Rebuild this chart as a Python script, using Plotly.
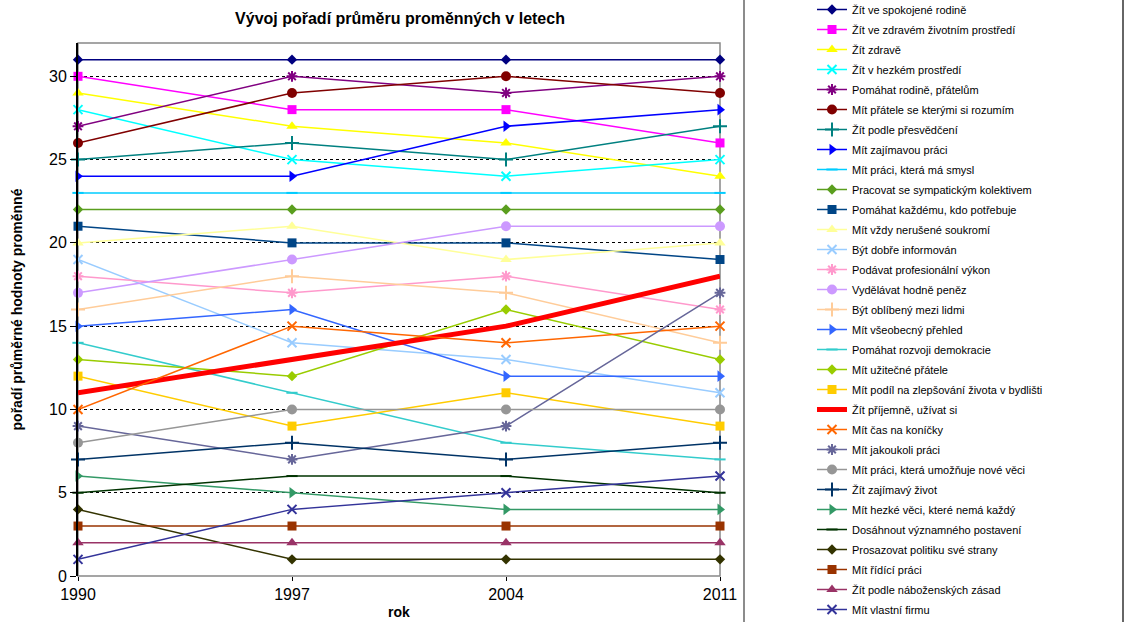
import plotly.graph_objects as go

years = [1990, 1997, 2004, 2011]

names = [
    "Žít ve spokojené rodině",
    "Žít ve zdravém životním prostředí",
    "Žít zdravě",
    "Žít v hezkém prostředí",
    "Pomáhat rodině, přátelům",
    "Mít přátele se kterými si rozumím",
    "Žít podle přesvědčení",
    "Mít zajímavou práci",
    "Mít práci, která má smysl",
    "Pracovat se sympatickým kolektivem",
    "Pomáhat každému, kdo potřebuje",
    "Mít vždy nerušené soukromí",
    "Být dobře informován",
    "Podávat profesionální výkon",
    "Vydělávat hodně peněz",
    "Být oblíbený mezi lidmi",
    "Mít všeobecný přehled",
    "Pomáhat rozvoji demokracie",
    "Mít užitečné přátele",
    "Mít podíl na zlepšování života v bydlišti",
    "Žít příjemně, užívat si",
    "Mít čas na koníčky",
    "Mít jakoukoli práci",
    "Mít práci, která umožňuje nové věci",
    "Žít zajímavý život",
    "Mít hezké věci, které nemá každý",
    "Dosáhnout významného postavení",
    "Prosazovat politiku své strany",
    "Mít řídící práci",
    "Žít podle náboženských zásad",
    "Mít vlastní firmu",
]

values = [
    [31, 31, 31, 31],
    [30, 28, 28, 26],
    [29, 27, 26, 24],
    [28, 25, 24, 25],
    [27, 30, 29, 30],
    [26, 29, 30, 29],
    [25, 26, 25, 27],
    [24, 24, 27, 28],
    [23, 23, 23, 23],
    [22, 22, 22, 22],
    [21, 20, 20, 19],
    [20, 21, 19, 20],
    [19, 14, 13, 11],
    [18, 17, 18, 16],
    [17, 19, 21, 21],
    [16, 18, 17, 14],
    [15, 16, 12, 12],
    [14, 11, 8, 7],
    [13, 12, 16, 13],
    [12, 9, 11, 9],
    [11, 13, 15, 18],
    [10, 15, 14, 15],
    [9, 7, 9, 17],
    [8, 10, 10, 10],
    [7, 8, 7, 8],
    [6, 5, 4, 4],
    [5, 6, 6, 5],
    [4, 1, 1, 1],
    [3, 3, 3, 3],
    [2, 2, 2, 2],
    [1, 4, 5, 6],
]

colors = [
    "#000080", "#FF00FF", "#FFFF00", "#00FFFF", "#800080", "#800000",
    "#008080", "#0000FF", "#00CCFF", "#5A9E1E", "#004586", "#FFFF99",
    "#99CCFF", "#FF99CC", "#CC99FF", "#FFCC99", "#3366FF", "#33CCCC",
    "#99CC00", "#FFCC00", "#FF0000", "#FF6600", "#666699", "#969696",
    "#003366", "#339966", "#003300", "#333300", "#993300", "#993366",
    "#333399",
]

symbols = [
    "diamond", "square", "triangle-up", "x-thin-open", "asterisk-open", "circle",
    "cross-thin-open", "triangle-right", "line-ew-open", "diamond", "square", "triangle-up",
    "x-thin-open", "asterisk-open", "circle", "cross-thin-open", "triangle-right", "line-ew-open",
    "diamond", "square", None, "x-thin-open", "asterisk-open", "circle",
    "cross-thin-open", "triangle-right", "line-ew-open", "diamond", "square", "triangle-up",
    "x-thin-open",
]

sizes = {
    "diamond": 8, "square": 9, "triangle-up": 10, "x-thin-open": 9,
    "asterisk-open": 9, "circle": 10, "cross-thin-open": 10,
    "triangle-right": 10, "line-ew-open": 8,
}

fig = go.Figure()
for i, (nm, vals, col, sym) in enumerate(zip(names, values, colors, symbols)):
    if sym is None:
        fig.add_trace(go.Scatter(
            x=years, y=vals, name=nm, mode="lines",
            line=dict(color=col, width=5), legendgroup=f"g{i}",
            cliponaxis=False,
        ))
    else:
        fig.add_trace(go.Scatter(
            x=years, y=vals, name=nm, mode="lines+markers",
            line=dict(color=col, width=1.5),
            marker=dict(symbol=sym, size=sizes[sym], color=col,
                        line=dict(color=col, width=2 if "open" in sym else 0)),
            legendgroup=f"g{i}", cliponaxis=False,
        ))

L, R, T, B = 78, 406, 43, 46
pw = 1126 - L - R
ph = 622 - T - B

fig.update_layout(
    width=1126, height=622,
    margin=dict(l=L, r=R, t=T, b=B, autoexpand=False),
    paper_bgcolor="white", plot_bgcolor="white",
    font=dict(family="Liberation Sans, Arial, sans-serif", color="black"),
    title=dict(text="<b>Vývoj pořadí průměru proměnných v letech</b>",
               x=(400) / 1126, xanchor="center", y=1 - 18 / 622, yanchor="middle",
               font=dict(size=16)),
    showlegend=True,
    legend=dict(x=(812 - L) / pw, xanchor="left", y=1 + (T + 5) / ph, yanchor="top",
                font=dict(size=11), tracegroupgap=1, bgcolor="rgba(0,0,0,0)",
                itemwidth=30, maxheight=700),
    xaxis=dict(range=[1990, 2011], tickvals=years, showgrid=False, zeroline=False,
               showline=False, ticks="outside", ticklen=4, tickcolor="black",
               tickfont=dict(size=16),
               title=dict(text="<b>rok</b>", font=dict(size=14), standoff=4)),
    yaxis=dict(range=[0, 32], tickvals=[0, 5, 10, 15, 20, 25, 30], showgrid=True,
               gridcolor="black", griddash="dot", gridwidth=1, zeroline=False,
               showline=True, linecolor="black", linewidth=2, ticks="outside", ticklen=6,
               tickcolor="black", tickfont=dict(size=16),
               title=dict(text="<b>pořadí průměrné hodnoty proměnné</b>",
                          font=dict(size=14), standoff=23)),
    shapes=[
        dict(type="rect", xref="paper", yref="paper", x0=0, x1=1, y0=0, y1=1,
             line=dict(color="#888888", width=1.5), layer="below"),
        dict(type="line", xref="paper", yref="paper",
             x0=(744 - L) / pw, x1=(744 - L) / pw, y0=-0.2, y1=1.2,
             line=dict(color="#666666", width=1.5)),
        dict(type="line", xref="paper", yref="paper",
             x0=(1123 - L) / pw, x1=(1123 - L) / pw, y0=-0.2, y1=1.2,
             line=dict(color="#666666", width=2)),
    ],
)

fig.write_html("out.html", config={"displayModeBar": False},
               post_script="document.body.style.margin='0px';document.body.style.overflow='hidden';")
